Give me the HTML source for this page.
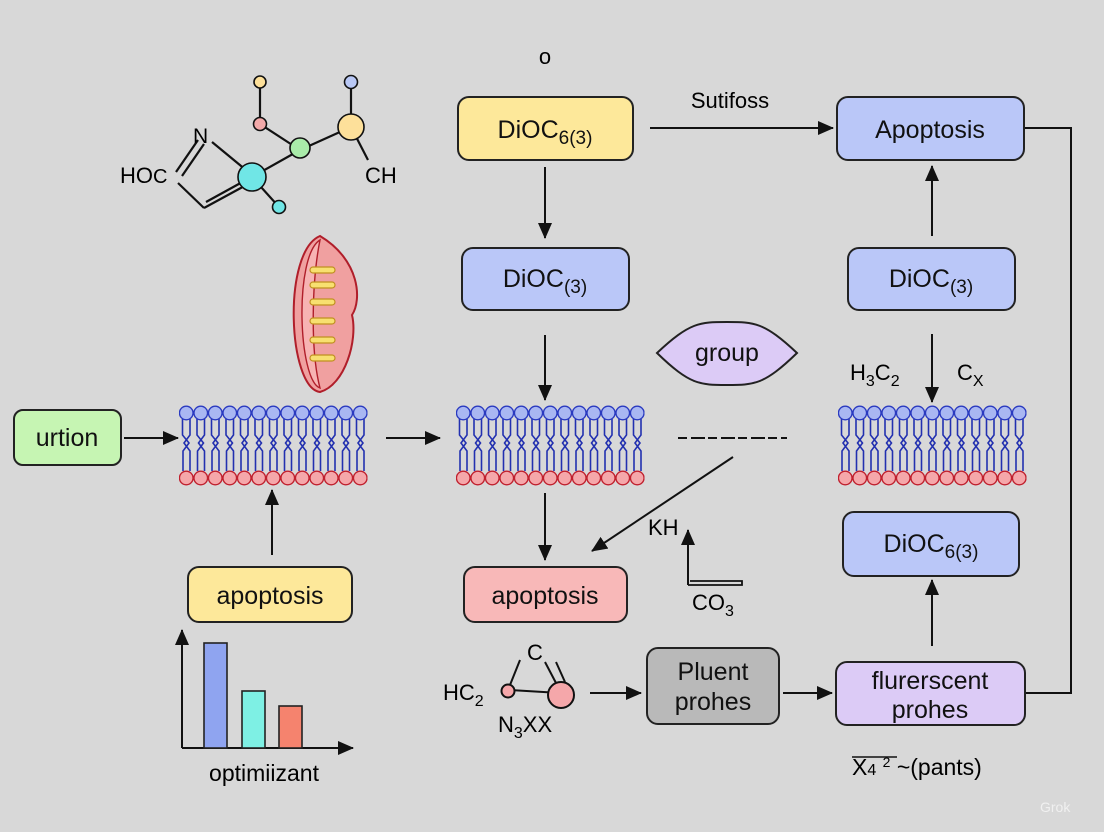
<!DOCTYPE html>
<html><head><style>
html,body{margin:0;padding:0;background:#d8d8d8;}
svg{display:block;font-family:"Liberation Sans",sans-serif;}
</style></head><body>
<svg width="1104" height="832" viewBox="0 0 1104 832" xmlns="http://www.w3.org/2000/svg">
<defs>
<marker id="ah" markerWidth="16" markerHeight="14" refX="15" refY="7" orient="auto" markerUnits="userSpaceOnUse" viewBox="0 0 16 14"><path d="M0,0 L16,7 L0,14 z" fill="#111"/></marker>
<pattern id="lip1" x="179" y="405" width="14.5" height="82" patternUnits="userSpaceOnUse">
 <path d="M3.5,14 V30 L10,38 L4,46 V66 M11,14 V30 L5,38 L11,46 V66" fill="none" stroke="#2230b0" stroke-width="1.6"/>
 <circle cx="7.25" cy="8" r="6.8" fill="#a9b7f2" stroke="#2a3ac0" stroke-width="1.4"/>
 <circle cx="7.25" cy="73" r="6.8" fill="#f5a7aa" stroke="#c0202e" stroke-width="1.4"/>
</pattern>
<pattern id="lip2" x="456" y="405" width="14.5" height="82" patternUnits="userSpaceOnUse">
 <path d="M3.5,14 V30 L10,38 L4,46 V66 M11,14 V30 L5,38 L11,46 V66" fill="none" stroke="#2230b0" stroke-width="1.6"/>
 <circle cx="7.25" cy="8" r="6.8" fill="#a9b7f2" stroke="#2a3ac0" stroke-width="1.4"/>
 <circle cx="7.25" cy="73" r="6.8" fill="#f5a7aa" stroke="#c0202e" stroke-width="1.4"/>
</pattern>
<pattern id="lip3" x="838" y="405" width="14.5" height="82" patternUnits="userSpaceOnUse">
 <path d="M3.5,14 V30 L10,38 L4,46 V66 M11,14 V30 L5,38 L11,46 V66" fill="none" stroke="#2230b0" stroke-width="1.6"/>
 <circle cx="7.25" cy="8" r="6.8" fill="#a9b7f2" stroke="#2a3ac0" stroke-width="1.4"/>
 <circle cx="7.25" cy="73" r="6.8" fill="#f5a7aa" stroke="#c0202e" stroke-width="1.4"/>
</pattern>
</defs>
<rect width="1104" height="832" fill="#d8d8d8"/>

<g stroke="#111" stroke-width="2.2" fill="none">
<line x1="176" y1="172" x2="198" y2="140"/><line x1="182" y1="176" x2="204" y2="144"/>
<line x1="212" y1="142" x2="252" y2="175"/>
<line x1="178" y1="183" x2="204" y2="208"/>
<line x1="204" y1="208" x2="250" y2="183"/><line x1="206" y1="202" x2="246" y2="180"/>
<line x1="252" y1="177" x2="300" y2="150"/>
<line x1="252" y1="177" x2="279" y2="207"/>
<line x1="260" y1="83" x2="260" y2="124"/>
<line x1="260" y1="124" x2="300" y2="150"/>
<line x1="300" y1="150" x2="351" y2="127"/>
<line x1="351" y1="83" x2="351" y2="127"/>
<line x1="351" y1="127" x2="368" y2="160"/>
</g>
<g stroke="#111" stroke-width="1.6">
<circle cx="260" cy="82" r="6" fill="#fde09a"/>
<circle cx="351" cy="82" r="6.5" fill="#b9c8f5"/>
<circle cx="260" cy="124" r="6.5" fill="#f3a9a9"/>
<circle cx="300" cy="148" r="10" fill="#a9eba9"/>
<circle cx="351" cy="127" r="13" fill="#fde09a"/>
<circle cx="252" cy="177" r="14" fill="#70e6e6"/>
<circle cx="279" cy="207" r="6.5" fill="#70e6e6"/>
</g>
<text x="120" y="183" font-size="22">HO<tspan font-size="20">C</tspan></text>
<text x="193" y="143" font-size="21">N</text>
<text x="365" y="183" font-size="22">CH</text>

<g stroke="#b01e2a" stroke-width="2">
<path d="M320,236 C282,252 288,388 320,392 C345,385 358,340 352,315 C362,300 360,260 320,236 z" fill="#f0a0a0"/>
<path d="M320,240 C294,256 298,380 320,388 C310,350 312,280 320,240 z" fill="#f7b3b3" stroke-width="1.4"/>
</g>
<g stroke="#c09020" stroke-width="1.2" fill="#f8e070">
<rect x="310" y="267" width="25" height="6" rx="3"/>
<rect x="310" y="282" width="25" height="6" rx="3"/>
<rect x="310" y="299" width="25" height="6" rx="3"/>
<rect x="310" y="318" width="25" height="6" rx="3"/>
<rect x="310" y="337" width="25" height="6" rx="3"/>
<rect x="310" y="355" width="25" height="6" rx="3"/>
</g>

<rect x="179" y="405" width="188.5" height="82" fill="url(#lip1)"/>
<rect x="456" y="405" width="188.5" height="82" fill="url(#lip2)"/>
<rect x="838" y="405" width="188.5" height="82" fill="url(#lip3)"/>

<g stroke="#222" stroke-width="2">
<rect x="458" y="97" width="175" height="63" rx="11" fill="#fde89a"/>
<rect x="837" y="97" width="187" height="63" rx="11" fill="#bac7f8"/>
<rect x="462" y="248" width="167" height="62" rx="11" fill="#bac7f8"/>
<rect x="848" y="248" width="167" height="62" rx="11" fill="#bac7f8"/>
<path d="M657,353 C690,322 700,322 727,322 C754,322 764,322 797,353 C764,385 754,385 727,385 C700,385 690,385 657,353 z" fill="#dccbf6"/>
<rect x="14" y="410" width="107" height="55" rx="9" fill="#c6f5b3"/>
<rect x="188" y="567" width="164" height="55" rx="11" fill="#fde89a"/>
<rect x="464" y="567" width="163" height="55" rx="11" fill="#f8b8b8"/>
<rect x="843" y="512" width="176" height="64" rx="11" fill="#bac7f8"/>
<rect x="647" y="648" width="132" height="76" rx="11" fill="#b9b9b9"/>
<rect x="836" y="662" width="189" height="63" rx="11" fill="#dccbf6"/>
</g>
<g font-size="25" fill="#111" text-anchor="middle">
<text x="545" y="138">DiOC<tspan font-size="19" dy="6">6(3)</tspan></text>
<text x="930" y="138">Apoptosis</text>
<text x="545" y="287">DiOC<tspan font-size="19" dy="6">(3)</tspan></text>
<text x="931" y="287">DiOC<tspan font-size="19" dy="6">(3)</tspan></text>
<text x="727" y="361">group</text>
<text x="67" y="446">urtion</text>
<text x="270" y="604">apoptosis</text>
<text x="545" y="604">apoptosis</text>
<text x="931" y="552">DiOC<tspan font-size="19" dy="6">6(3)</tspan></text>
<text x="713" y="680">Pluent</text>
<text x="713" y="710">prohes</text>
<text x="930" y="689">flurerscent</text>
<text x="930" y="718">prohes</text>
</g>
<text x="545" y="64" font-size="22" text-anchor="middle">o</text>
<text x="730" y="108" font-size="22" text-anchor="middle">Sutifoss</text>

<g stroke="#111" stroke-width="2" fill="none" marker-end="url(#ah)">
<line x1="650" y1="128" x2="833" y2="128"/>
<line x1="545" y1="167" x2="545" y2="238"/>
<line x1="545" y1="335" x2="545" y2="400"/>
<line x1="545" y1="493" x2="545" y2="560"/>
<line x1="932" y1="236" x2="932" y2="166"/>
<line x1="932" y1="334" x2="932" y2="402"/>
<line x1="932" y1="646" x2="932" y2="580"/>
<line x1="272" y1="555" x2="272" y2="490"/>
<line x1="124" y1="438" x2="178" y2="438"/>
<line x1="386" y1="438" x2="440" y2="438"/>
<line x1="590" y1="693" x2="641" y2="693"/>
<line x1="783" y1="693" x2="832" y2="693"/>
<line x1="733" y1="457" x2="592" y2="551"/>
<line x1="688" y1="585" x2="688" y2="530"/>
<line x1="182" y1="748" x2="182" y2="630"/>
<line x1="182" y1="748" x2="353" y2="748"/>
</g>
<polyline points="1025,128 1071,128 1071,693 1026,693" fill="none" stroke="#111" stroke-width="2"/>
<line x1="678" y1="438" x2="787" y2="438" stroke="#111" stroke-width="2" stroke-dasharray="9,4,14,3"/>
<path d="M688,585 H742 V581 H690" fill="none" stroke="#111" stroke-width="1.8"/>
<text x="648" y="535" font-size="22">KH</text>
<text x="692" y="610" font-size="22">CO<tspan font-size="16" dy="6">3</tspan></text>
<text x="850" y="380" font-size="22">H<tspan font-size="16" dy="6">3</tspan><tspan dy="-6">C</tspan><tspan font-size="16" dy="6">2</tspan></text>
<text x="957" y="380" font-size="22">C<tspan font-size="16" dy="6">X</tspan></text>

<g stroke="#222" stroke-width="1.6">
<rect x="204" y="643" width="23" height="105" fill="#8fa4f0"/>
<rect x="242" y="691" width="23" height="57" fill="#7ef0e4"/>
<rect x="279" y="706" width="23" height="42" fill="#f5836e"/>
</g>
<text x="264" y="781" font-size="23" text-anchor="middle">optimiizant</text>

<g stroke="#111" stroke-width="2">
<line x1="510" y1="690" x2="560" y2="693"/>
<line x1="510" y1="685" x2="520" y2="660"/>
<line x1="545" y1="662" x2="556" y2="683"/>
<line x1="556" y1="662" x2="565" y2="682"/>
<circle cx="508" cy="691" r="6.5" fill="#f5a7aa"/>
<circle cx="561" cy="695" r="13" fill="#f5a7aa"/>
</g>
<text x="535" y="660" font-size="22" text-anchor="middle">C</text>
<text x="443" y="700" font-size="22">HC<tspan font-size="16" dy="6">2</tspan></text>
<text x="498" y="732" font-size="22">N<tspan font-size="16" dy="6">3</tspan><tspan dy="-6">XX</tspan></text>

<text x="852" y="775" font-size="23">X<tspan font-size="16">4</tspan> <tspan font-size="14" dy="-8">2</tspan><tspan dy="8"> ~(pants)</tspan></text>
<line x1="852" y1="757" x2="897" y2="757" stroke="#111" stroke-width="1.5"/>
<text x="1040" y="812" font-size="14" fill="#f0f0f0">Grok</text>
</svg>
</body></html>
